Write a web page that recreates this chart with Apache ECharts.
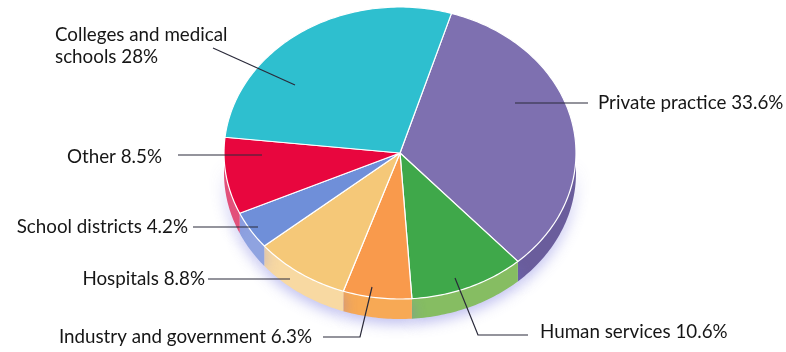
<!DOCTYPE html>
<html>
<head>
<meta charset="utf-8">
<script src="https://cdn.jsdelivr.net/npm/echarts@6/dist/echarts.min.js"></script>
<style>
html,body{margin:0;padding:0;background:#fff;}
#chart{width:786px;height:352px;}
</style>
</head>
<body>
<div id="chart"></div>
<script>
// ---- data ----
const categories = ['Private practice', 'Human services', 'Industry and government', 'Hospitals', 'School districts', 'Other', 'Colleges and medical schools'];
const shares = [33.6, 10.6, 6.3, 8.8, 4.2, 8.5, 28];
const topColors = ['#7e70b0', '#3fa84a', '#f99a4c', '#f5c878', '#6f8fd9', '#e8063e', '#2ebfcf'];
const sideColors = ['#6a5d9c', '#86bd62', '#f7a955', '#f8d9a2', '#8fa3e0', '#e2507a', '#2aa8b8'];

// ---- layout ----
const CX = 400, CY = 153, RX = 176, RY = 146, DEPTH = 20, START = 73;
const total = shares.reduce((a, b) => a + b, 0);

function pt(t, dy) {
  const r = t * Math.PI / 180;
  return [CX + RX * Math.cos(r), CY - RY * Math.sin(r) + (dy || 0)];
}
function arc(a0, a1, dy) {
  const pts = [];
  const n = Math.max(2, Math.ceil(Math.abs(a0 - a1)));
  for (let k = 0; k <= n; k++) pts.push(pt(a0 + (a1 - a0) * k / n, dy));
  return pts;
}

function renderItem(params, api) {
  const i = params.dataIndex;
  let before = 0;
  for (let j = 0; j < i; j++) before += shares[j];
  const v = api.value(0);
  const a0 = START - before / total * 360;
  const a1 = a0 - v / total * 360;
  const children = [];
  const s = Math.min(a0, 0), e = Math.max(a1, -180);
  if (s > e) {
    const upper = arc(s, e, 0);
    const lower = arc(e, s, DEPTH);
    children.push({
      type: 'polygon', z2: 1,
      shape: { points: upper.concat(lower) },
      style: { fill: sideColors[i], shadowBlur: 14, shadowColor: 'rgba(110,110,220,0.45)', shadowOffsetY: 5 }
    });
  }
  children.push({
    type: 'polygon', z2: 10,
    shape: { points: [[CX, CY]].concat(arc(a0, a1, 0)) },
    style: { fill: topColors[i], stroke: '#ffffff', lineWidth: 1.2, lineJoin: 'round' }
  });
  return { type: 'group', children: children };
}

const labelText = categories.map((c, i) => c + ' ' + shares[i] + '%');
const font = { fontFamily: 'Lato', fontSize: 18.8, fill: '#161616' };
function label(i, x, y, align) {
  return { type: 'text', z: 20, x: x, y: y,
    style: Object.assign({ text: labelText[i], align: align, verticalAlign: 'middle' }, font) };
}
function line(points) {
  return { type: 'polyline', z: 20, shape: { points: points }, style: { stroke: '#2a2a3a', lineWidth: 1.2, fill: null } };
}

const chart = echarts.init(document.getElementById('chart'));
chart.setOption({
  animation: false,
  series: [{
    type: 'custom',
    coordinateSystem: 'none',
    renderItem: renderItem,
    data: shares.map((v, i) => ({ name: categories[i], value: [v] }))
  }],
  graphic: [
    { type: 'text', z: 20, x: 55, y: 46,
      style: Object.assign({ text: 'Colleges and medical\nschools ' + shares[6] + '%', align: 'left', verticalAlign: 'middle', lineHeight: 22 }, font) },
    line([[213, 48], [295, 85]]),
    label(5, 162, 157, 'right'), line([[178, 155], [262, 155]]),
    label(4, 188, 227, 'right'), line([[193, 227], [258, 227]]),
    label(3, 205, 279, 'right'), line([[208, 279], [290, 279]]),
    label(2, 312, 337, 'right'), line([[323, 337], [360, 337], [372, 287]]),
    label(1, 540, 332, 'left'), line([[455, 278], [478, 335], [528, 335]]),
    label(0, 598, 103, 'left'), line([[515, 103], [588, 103]])
  ]
});
</script>
</body>
</html>
